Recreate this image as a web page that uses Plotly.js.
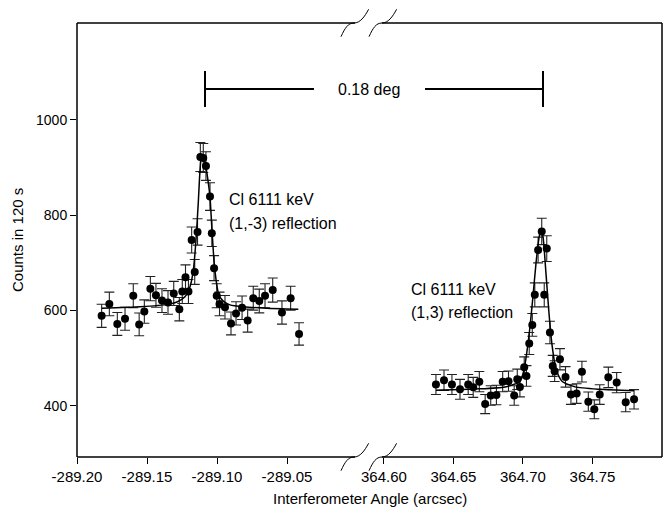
<!DOCTYPE html>
<html><head><meta charset="utf-8">
<script src="https://cdn.plot.ly/plotly-3.0.1.min.js"></script>
<style>html,body{margin:0;padding:0;background:#fff;}#chart{width:667px;height:514px;}</style>
</head><body><div id="chart"></div>
<script>
// ---- data: (1,-3) reflection, left segment ----
const leftAngle = [-289.1824,-289.1769,-289.1712,-289.1657,-289.1598,-289.1556,-289.1519,-289.1476,-289.1436,-289.1393,
  -289.1350,-289.1309,-289.1269,-289.1248,-289.1225,-289.1204,-289.1181,-289.1159,-289.1139,-289.1119,
  -289.1098,-289.1079,-289.1050,-289.1037,-289.1021,-289.1002,-289.0982,-289.0943,-289.0900,-289.0864,
  -289.0821,-289.0781,-289.0741,-289.0698,-289.0657,-289.0602,-289.0536,-289.0474,-289.0414];
const leftCounts = [589,614,572,583,631,571,598,646,632,621,
  617,636,603,640,670,640,748,681,765,922,
  920,903,839,762,689,631,614,607,573,594,
  606,579,626,620,631,643,596,626,551];
const leftFitAngle = [-289.1824,-289.1550,-289.1350,-289.1286,-289.1229,-289.1193,-289.1169,-289.1150,-289.1134,-289.1121,
  -289.1109,-289.1096,-289.1079,-289.1064,-289.1050,-289.1036,-289.1021,-289.1007,-289.0993,-289.0979,-289.0955,-289.0907,-289.0812,-289.0645,-289.0419];
const leftFitCounts = [605,608,613,618,629,650,685,748,825,895,
  927,922,900,872,838,770,703,665,640,628,620,612,608,605,603];

// ---- data: (1,3) reflection, right segment ----
const rightAngle = [364.6374,364.6432,364.6489,364.6547,364.6606,364.6642,364.6686,364.6728,364.6768,364.6809,
  364.6854,364.6896,364.6937,364.6959,364.6978,364.7009,364.7025,364.7045,364.7067,364.7085,
  364.7109,364.7135,364.7153,364.7171,364.7194,364.7214,364.7228,364.7266,364.7306,364.7345,
  364.7386,364.7424,364.7470,364.7513,364.7552,364.7614,364.7674,364.7739,364.7799];
const rightCounts = [445,454,445,435,445,439,451,404,422,423,
  451,452,422,456,440,481,463,531,570,633,
  727,766,633,730,554,484,473,498,461,424,
  426,472,409,393,424,460,449,408,414];
const rightFitAngle = [364.6374,364.6691,364.6871,364.6942,364.6978,364.7007,364.7029,364.7050,364.7072,364.7094,
  364.7115,364.7129,364.7144,364.7165,364.7187,364.7209,364.7237,364.7281,364.7374,364.7554,364.7799];
const rightFitCounts = [433,436,440,446,451,475,515,565,630,700,
  752,770,755,680,595,528,478,452,440,435,432];

const yTicks = [400,600,800,1000];
const leftTicks = [-289.20,-289.15,-289.10,-289.05];
const leftTickText = ['-289.20','-289.15','-289.10','-289.05'];
const rightTicks = [364.60,364.65,364.70,364.75];
const rightTickText = ['364.60','364.65','364.70','364.75'];

// ---- frame geometry (pixels) ----
const L=77,R=662,T=23,B=457;
const bx1=355, bx2=382;   // frame break ends
const px = x => (x-L)/(R-L);
const py = y => (B-y)/(B-T);
const FONT = "Liberation Sans, Arial, Helvetica, sans-serif";

const errStyle = {type:'sqrt', visible:true, color:'#222', thickness:1.1, width:5};
const traces = [
  {x:leftAngle, y:leftCounts, xaxis:'x', yaxis:'y', type:'scatter', mode:'markers',
   marker:{color:'#000', size:8}, error_y:errStyle},
  {x:leftFitAngle, y:leftFitCounts, xaxis:'x', yaxis:'y', type:'scatter', mode:'lines',
   line:{color:'#000', width:1.5, shape:'spline', smoothing:0.6}},
  {x:rightAngle, y:rightCounts, xaxis:'x2', yaxis:'y', type:'scatter', mode:'markers',
   marker:{color:'#000', size:8}, error_y:errStyle},
  {x:rightFitAngle, y:rightFitCounts, xaxis:'x2', yaxis:'y', type:'scatter', mode:'lines',
   line:{color:'#000', width:1.5, shape:'spline', smoothing:0.6}}
];

function line(x0,y0,x1,y1,w){return {type:'line',xref:'paper',yref:'paper',x0:px(x0),y0:py(y0),x1:px(x1),y1:py(y1),line:{color:'#000',width:w||1.5}};}
function mark(x0,yc){
  const p=(x,y)=>px(x).toFixed(5)+','+py(y).toFixed(5);
  const d='M'+p(x0,yc+13.7)+' C'+p(x0+4,yc+5)+' '+p(x0+7,yc)+' '+p(x0+13,yc)+
          ' C'+p(x0+19,yc)+' '+p(x0+23.5,yc-6)+' '+p(x0+27.6,yc-13.7);
  return {type:'path',xref:'paper',yref:'paper',path:d,line:{color:'#000',width:1}};
}
const shapes = [
  line(L,T,L,B), line(R,T,R,B),
  line(L,T,bx1,T), line(bx2,T,R,T),
  line(L,B,bx1,B), line(bx2,B,R,B),
  mark(341,T), mark(369,T), mark(341,B), mark(369,B),
  // 0.18 deg bar
  line(205,89,314,89,2), line(425,89,543,89,2),
  line(205,71,205,107,2), line(543,71,543,107,2)
];

function ann(text,x,y,opts){return Object.assign({text:text,xref:'paper',yref:'paper',x:px(x),y:py(y),showarrow:false,
  xanchor:'left',yanchor:'middle',font:{family:FONT,size:16,color:'#000'}},opts||{});}
const annotations = [
  ann('0.18 deg',369,89,{xanchor:'center'}),
  ann('Cl 6111 keV',227,200), ann('(1,-3) reflection',227,223),
  ann('Cl 6111 keV',409,289), ann('(1,3) reflection',409,312),
  ann('Interferometer Angle (arcsec)',369.5,499,{xanchor:'center',font:{family:FONT,size:15,color:'#000'}}),
  ann('Counts in 120 s',17,240,{xanchor:'center',textangle:-90,font:{family:FONT,size:15,color:'#000'}})
];

const axBase = {showline:false, showgrid:false, zeroline:false, ticks:'outside', ticklen:6, tickwidth:1, tickcolor:'#000',
  tickfont:{family:FONT,size:15,color:'#000'}, fixedrange:true};
const layout = {
  width:667, height:514, margin:{l:L, r:667-R, t:T, b:514-B},
  paper_bgcolor:'#fff', plot_bgcolor:'#fff', showlegend:false,
  xaxis: Object.assign({}, axBase, {domain:[0, px(bx1)], range:[-289.20, -289.20+(bx1-L)/1400],
    tickvals:leftTicks, ticktext:leftTickText, anchor:'y'}),
  xaxis2: Object.assign({}, axBase, {domain:[px(bx2), 1], range:[364.5986, 364.80],
    tickvals:rightTicks, ticktext:rightTickText, anchor:'y'}),
  yaxis: Object.assign({}, axBase, {range:[293,1203], tickvals:yTicks, tickformat:'d',
    tickfont:{family:FONT,size:14,color:'#000'}}),
  shapes:shapes, annotations:annotations
};
Plotly.newPlot('chart', traces, layout, {displayModeBar:false, staticPlot:true});
</script></body></html>
